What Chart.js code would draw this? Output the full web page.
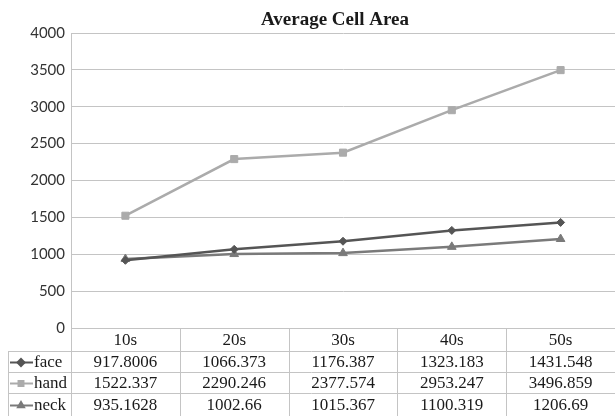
<!DOCTYPE html>
<html>
<head>
<meta charset="utf-8">
<script src="https://cdn.jsdelivr.net/npm/chart.js@4"></script>
<style>
  body { margin: 0; background: #fff; }
  canvas { display: block; }
</style>
</head>
<body>
<canvas id="cellChart" width="615" height="416"></canvas>
<script>
// chart data
const categories = ['10s', '20s', '30s', '40s', '50s'];
const faceValues = [917.8006, 1066.373, 1176.387, 1323.183, 1431.548];
const handValues = [1522.337, 2290.246, 2377.574, 2953.247, 3496.859];
const neckValues = [935.1628, 1002.66, 1015.367, 1100.319, 1206.69];
const yTicks = [0, 500, 1000, 1500, 2000, 2500, 3000, 3500, 4000];
const chartTitle = 'Average Cell Area';

const gridColor = '#c4c4c4';
const serif = '"Liberation Serif", "DejaVu Serif", serif';

// title + data table drawn under the plot
const tablePlugin = {
  id: 'dataTable',
  afterDraw(chart) {
    const ctx = chart.ctx;
    const area = chart.chartArea;
    const x = chart.scales.x;
    const tableLeft = 8;
    const rowTops = [area.bottom, area.bottom + 23, area.bottom + 44, area.bottom + 65, area.bottom + 88];

    ctx.save();

    // title
    ctx.fillStyle = '#1a1a1a';
    ctx.font = 'bold 19px ' + serif;
    ctx.textAlign = 'center';
    ctx.textBaseline = 'alphabetic';
    ctx.fillText(chartTitle, 335, 25);
    ctx.textBaseline = 'middle';

    // grid lines of the table
    ctx.strokeStyle = gridColor;
    ctx.lineWidth = 1;
    ctx.beginPath();
    ctx.moveTo(area.left, rowTops[0] + 0.5);
    ctx.lineTo(area.right, rowTops[0] + 0.5);
    for (let r = 1; r < rowTops.length; r++) {
      ctx.moveTo(tableLeft, Math.round(rowTops[r]) + 0.5);
      ctx.lineTo(area.right, Math.round(rowTops[r]) + 0.5);
    }
    ctx.moveTo(tableLeft + 0.5, rowTops[1]);
    ctx.lineTo(tableLeft + 0.5, rowTops[4]);
    const colW = (area.right - area.left) / categories.length;
    for (let c = 0; c <= categories.length; c++) {
      const cx = Math.round(area.left + c * colW) + 0.5;
      ctx.moveTo(cx, rowTops[0]);
      ctx.lineTo(cx, rowTops[4]);
    }
    ctx.stroke();

    // header text
    ctx.fillStyle = '#1a1a1a';
    ctx.font = '17px ' + serif;
    categories.forEach((cat, i) => {
      ctx.fillText(cat, x.getPixelForValue(i), (rowTops[0] + rowTops[1]) / 2 + 1);
    });

    // series rows
    chart.data.datasets.forEach((ds, r) => {
      const yMid = (rowTops[r + 1] + rowTops[r + 2]) / 2 + 1;
      // legend key
      ctx.strokeStyle = ds.borderColor;
      ctx.lineWidth = 2;
      ctx.beginPath();
      ctx.moveTo(tableLeft + 2, yMid);
      ctx.lineTo(tableLeft + 25, yMid);
      ctx.stroke();
      Chart.helpers.drawPoint(ctx, {
        pointStyle: ds.pointStyle,
        radius: 3.5,
        borderWidth: 1
      }, tableLeft + 13, yMid);
      ctx.fillStyle = ds.borderColor;
      ctx.fill();

      ctx.fillStyle = '#1a1a1a';
      ctx.textAlign = 'left';
      ctx.fillText(ds.label, tableLeft + 26, yMid);
      ctx.textAlign = 'center';
      ds.data.forEach((v, i) => {
        ctx.fillText(String(v), x.getPixelForValue(i), yMid);
      });
    });

    ctx.restore();
  }
};

const ctx = document.getElementById('cellChart').getContext('2d');
const cellChart = new Chart(ctx, {
  type: 'line',
  data: {
    labels: categories,
    datasets: [
      {
        label: 'face',
        data: faceValues,
        borderColor: '#555555',
        backgroundColor: '#555555',
        borderWidth: 2.5,
        pointStyle: 'rectRot',
        pointRadius: 4,
        pointBorderWidth: 1
      },
      {
        label: 'hand',
        data: handValues,
        borderColor: '#ababab',
        backgroundColor: '#ababab',
        borderWidth: 2.5,
        pointStyle: 'rect',
        pointRadius: 5,
        pointBorderWidth: 1
      },
      {
        label: 'neck',
        data: neckValues,
        borderColor: '#7a7a7a',
        backgroundColor: '#7a7a7a',
        borderWidth: 2.5,
        pointStyle: 'triangle',
        pointRadius: 5,
        pointBorderWidth: 1
      }
    ]
  },
  options: {
    responsive: false,
    animation: false,
    layout: {
      autoPadding: false,
      padding: { left: 8, right: 0, top: 33, bottom: 88 }
    },
    plugins: {
      legend: { display: false },
      title: { display: false },
      tooltip: { enabled: false }
    },
    scales: {
      x: {
        display: false,
        offset: true
      },
      y: {
        min: 0,
        max: 4000,
        afterBuildTicks: (scale) => {
          scale.ticks = yTicks.map(v => ({ value: v }));
        },
        afterFit: (scale) => {
          scale.width = 63;
        },
        border: { display: true, color: gridColor },
        grid: { color: gridColor, drawTicks: false },
        ticks: {
          padding: 6,
          color: '#333',
          font: { family: 'Lato, "Open Sans", sans-serif', size: 15 },
          callback: (value) => String(value)
        }
      }
    }
  },
  plugins: [tablePlugin]
});
</script>
</body>
</html>
